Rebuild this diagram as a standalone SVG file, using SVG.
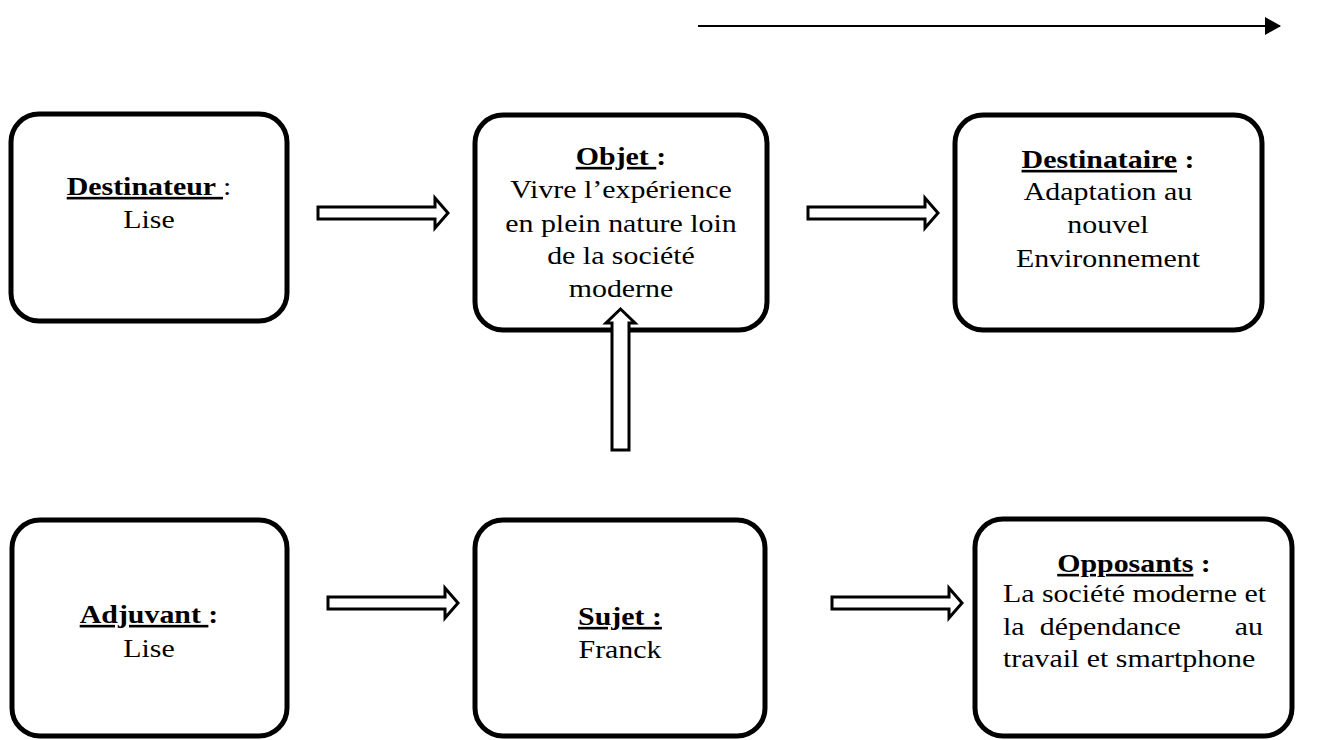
<svg xmlns="http://www.w3.org/2000/svg" width="1335" height="740" viewBox="0 0 1335 740">
  <style>
    .box { fill: #ffffff; stroke: #000000; stroke-width: 5; }
    .t { font-family: "Liberation Serif", "Times New Roman", serif; font-size: 26px; fill: #000000; }
    .c { text-anchor: middle; }
    .b { font-weight: bold; }
    .u { text-decoration: underline; }
    .blk { fill: #ffffff; stroke: #000000; stroke-width: 3; stroke-linejoin: miter; }
    .line { stroke: #000000; stroke-width: 2; fill: none; }
  </style>
  <defs>
    <marker id="tri" markerWidth="16" markerHeight="18" refX="15" refY="9" orient="auto" markerUnits="userSpaceOnUse">
      <path d="M0,0 L16,9 L0,18 Z" fill="#000000"/>
    </marker>
  </defs>
  <rect width="1335" height="740" fill="#ffffff"/>

  <g id="destinateur">
    <rect class="box" x="11" y="114" width="276" height="207" rx="28" ry="28"/>
    <g transform="translate(149,0) scale(1.15,1)">
      <text class="t c" x="0" y="195"><tspan class="b u">Destinateur </tspan><tspan>:</tspan></text>
      <text class="t c" x="0" y="228">Lise</text>
    </g>
  </g>

  <g id="objet">
    <rect class="box" x="475" y="115" width="292" height="215" rx="28" ry="28"/>
    <g transform="translate(621,0) scale(1.15,1)">
      <text class="t c" x="0" y="165"><tspan class="b u">Objet </tspan><tspan class="b">:</tspan></text>
      <text class="t c" x="0" y="198">Vivre l’expérience</text>
      <text class="t c" x="0" y="232">en plein nature loin</text>
      <text class="t c" x="0" y="264">de la société</text>
      <text class="t c" x="0" y="297">moderne</text>
    </g>
  </g>

  <g id="destinataire">
    <rect class="box" x="955" y="115" width="307" height="215" rx="28" ry="28"/>
    <g transform="translate(1108,0) scale(1.15,1)">
      <text class="t c" x="0" y="168"><tspan class="b u">Destinataire</tspan><tspan class="b"> :</tspan></text>
      <text class="t c" x="0" y="200">Adaptation au</text>
      <text class="t c" x="0" y="233">nouvel</text>
      <text class="t c" x="0" y="267">Environnement</text>
    </g>
  </g>

  <g id="adjuvant">
    <rect class="box" x="12" y="520" width="275" height="216" rx="28" ry="28"/>
    <g transform="translate(149,0) scale(1.15,1)">
      <text class="t c" x="0" y="623"><tspan class="b u">Adjuvant </tspan><tspan class="b">:</tspan></text>
      <text class="t c" x="0" y="657">Lise</text>
    </g>
  </g>

  <g id="sujet">
    <rect class="box" x="475" y="520" width="290" height="216" rx="28" ry="28"/>
    <g transform="translate(620,0) scale(1.15,1)">
      <text class="t c" x="0" y="625"><tspan class="b u">Sujet :</tspan></text>
      <text class="t c" x="0" y="658">Franck</text>
    </g>
  </g>

  <g id="opposants">
    <rect class="box" x="975" y="519" width="317" height="217" rx="28" ry="28"/>
    <g transform="translate(1134,0) scale(1.15,1)">
      <text class="t c" x="0" y="572"><tspan class="b u">Opposants</tspan><tspan class="b"> :</tspan></text>
    </g>
    <g transform="translate(1003,0) scale(1.15,1)">
      <text class="t" x="0" y="602">La société moderne et</text>
      <text class="t" x="0" y="635">la</text>
      <text class="t" x="32" y="635">dépendance</text>
      <text class="t" x="226" y="635" text-anchor="end">au</text>
      <text class="t" x="0" y="667">travail et smartphone</text>
    </g>
  </g>

  <g id="connectors">
    <polygon class="blk" points="318,207 435,207 435,198 448,213 435,228 435,219 318,219"/>
    <polygon class="blk" points="808,207 925,207 925,198 938,213 925,228 925,219 808,219"/>
    <polygon class="blk" points="328,597 445,597 445,588 458,603 445,618 445,609 328,609"/>
    <polygon class="blk" points="832,597 949,597 949,588 962,603 949,618 949,609 832,609"/>
    <polygon class="blk" points="612,450 612,323 606,323 620.5,309 635,323 629,323 629,450"/>
    <line class="line" x1="698" y1="26" x2="1280" y2="26" marker-end="url(#tri)"/>
  </g>
</svg>
